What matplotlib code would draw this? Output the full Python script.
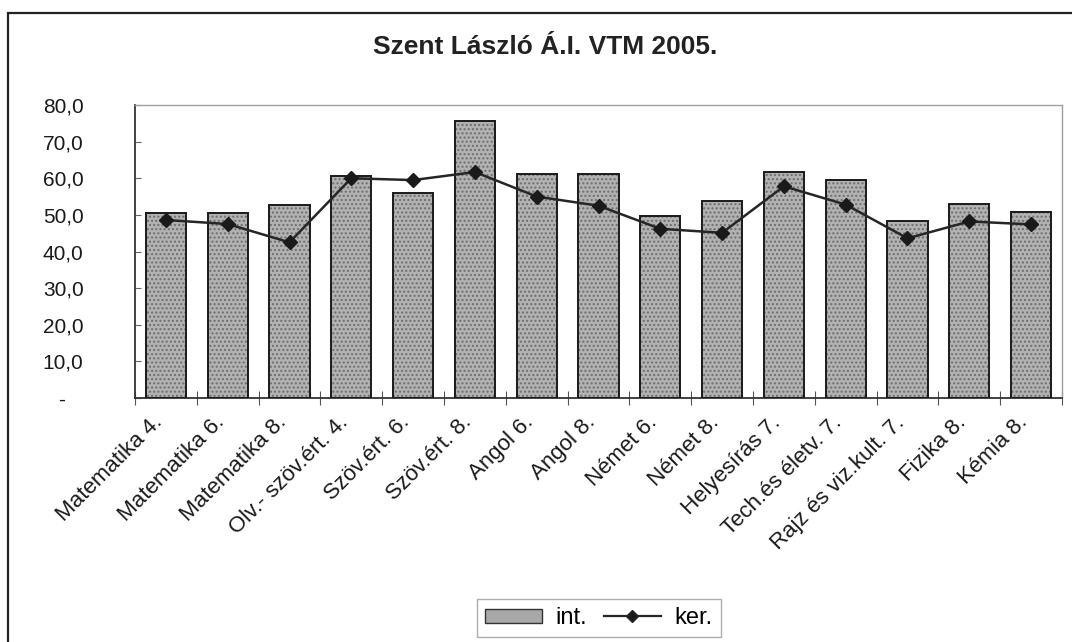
import matplotlib
matplotlib.use("Agg")
import matplotlib.pyplot as plt
import matplotlib.transforms as mtransforms
import numpy as np
from matplotlib.patches import Patch, Rectangle
from matplotlib.lines import Line2D

plt.rcParams["font.family"] = ["Liberation Sans", "DejaVu Sans"]

subjects = ["Matematika 4.", "Matematika 6.", "Matematika 8.", "Olv.- szöv.ért. 4.",
            "Szöv.ért. 6.", "Szöv.ért. 8.", "Angol 6.", "Angol 8.", "Német 6.",
            "Német 8.", "Helyesírás 7.", "Tech.és életv. 7.", "Rajz és viz.kult. 7.",
            "Fizika 8.", "Kémia 8."]
int_vals = [50.4, 50.4, 52.6, 60.7, 56.1, 75.5, 61.2, 61.1, 49.8, 53.7,
            61.8, 59.5, 48.3, 52.9, 50.7]
ker_vals = [48.6, 47.5, 42.5, 60.0, 59.5, 61.7, 55.0, 52.5, 46.2, 45.1,
            57.8, 52.8, 43.6, 48.2, 47.4]
y_ticks = [0, 10, 20, 30, 40, 50, 60, 70, 80]
y_labels = ["-   ", "10,0", "20,0", "30,0", "40,0", "50,0", "60,0", "70,0", "80,0"]

W, H = 1072, 642
fig = plt.figure(figsize=(W / 100, H / 100), dpi=100)
ax = fig.add_axes([135 / W, 1 - 398 / H, (1062 - 135) / W, (398 - 105) / H])

x = np.arange(len(subjects))
bw = 0.65
# stippled grey fill, then a black outline on top
ax.bar(x, int_vals, width=bw, color="#b2b2b2", edgecolor="#6e6e6e", linewidth=0,
       hatch="....", zorder=2)
ax.bar(x, int_vals, width=bw, fill=False, edgecolor="#1a1a1a", linewidth=1.4, zorder=3)
ax.plot(x, ker_vals, color="#262626", lw=1.8, marker="D", ms=7,
        mfc="#1a1a1a", mec="#1a1a1a", zorder=4)

ax.set_xlim(-0.5, len(subjects) - 0.5)
ax.set_ylim(0, 80)
ax.set_yticks(y_ticks)
ax.set_yticklabels(y_labels, fontsize=15, color="#1a1a1a")
ax.tick_params(axis="y", direction="in", length=4, width=0.8, color="#666", pad=37)

ax.set_xticks(x)
ax.set_xticklabels(subjects, rotation=45, ha="right", va="top",
                   rotation_mode="anchor", fontsize=16, color="#1a1a1a")
ax.tick_params(axis="x", which="major", length=0, pad=10)
shift = mtransforms.ScaledTranslation(-14 / 100, 0, fig.dpi_scale_trans)
for lbl in ax.get_xticklabels():
    lbl.set_transform(lbl.get_transform() + shift)
ax.set_xticks(np.arange(-0.5, len(subjects)), minor=True)
ax.tick_params(axis="x", which="minor", direction="inout", length=10,
               width=0.8, color="#555")

for s in ("left", "bottom"):
    ax.spines[s].set_color("#333")
    ax.spines[s].set_linewidth(1.3)
ax.spines["top"].set_color("#a0a0a0")
ax.spines["top"].set_linestyle((0, (2, 1)))
ax.spines["right"].set_color("#a0a0a0")
for s in ("top", "right"):
    ax.spines[s].set_linewidth(1.0)

fig.text(545 / W, 1 - 47 / H, "Szent László Á.I. VTM 2005.", fontsize=19,
         fontweight="bold", ha="center", va="center", color="#222")

handles = [Patch(facecolor="#a8a8a8", edgecolor="#333", lw=1.0),
           Line2D([], [], color="#262626", lw=1.6, marker="D", ms=6, mfc="#1a1a1a")]
leg = fig.legend(handles, ["int.", "ker."], ncol=2, fontsize=17,
                 loc="center", bbox_to_anchor=(599 / W, 1 - 618 / H),
                 frameon=True, fancybox=False, edgecolor="#999",
                 handlelength=2.4, handleheight=0.55, columnspacing=0.7,
                 handletextpad=0.6, borderpad=0.35)
leg.get_frame().set_linewidth(1.0)

# outer chart frame
fig.patches.append(Rectangle((8 / W, -0.1), 1.2, 1.1 - 13 / H, transform=fig.transFigure,
                             fill=False, edgecolor="#222", lw=1.6))

fig.savefig("out.png", dpi=100)
